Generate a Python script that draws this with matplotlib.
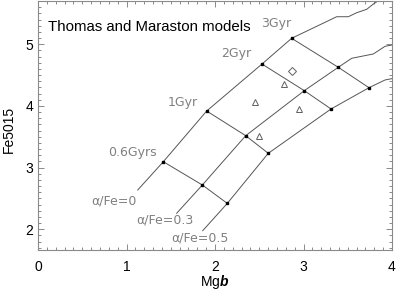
import matplotlib
matplotlib.use("Agg")
import matplotlib.pyplot as plt
from matplotlib.ticker import MultipleLocator

# ---------------- data ----------------
age_labels = ['0.6Gyrs', '1Gyr', '2Gyr', '3Gyr']
alpha_labels = ['α/Fe=0', 'α/Fe=0.3', 'α/Fe=0.5']

# model grid points (rows: alpha/Fe = 0, 0.3, 0.5 ; columns: ages)
grid_mgb = [[1.416, 1.906, 2.531, 2.866],
            [1.857, 2.347, 3.009, 3.393],
            [2.139, 2.602, 3.311, 3.740]]
grid_fe = [[3.096, 3.918, 4.680, 5.097],
           [2.718, 3.518, 4.248, 4.627],
           [2.420, 3.232, 3.951, 4.296]]

# young end of each track
young_mgb = [1.127, 1.567, 1.861]
young_fe = [2.637, 2.260, 1.977]

# old extension of each track (beyond 3 Gyr)
old_mgb = [[3.375, 3.506, 3.601, 3.714, 3.789, 3.910],
           [3.545, 3.789, 3.921, 4.030],
           [3.921, 4.034]]
old_fe = [[5.447, 5.447, 5.512, 5.567, 5.653, 5.766],
          [4.773, 4.843, 4.967, 4.997],
          [4.421, 4.453]]

# observations
diamond_mgb = [2.866]
diamond_fe = [4.572]
tri_mgb = [2.780, 2.452, 2.949, 2.497]
tri_fe = [4.351, 4.059, 3.951, 3.513]

# ---------------- text placement ----------------
age_label_xy = [(1.345, 3.242), (1.805, 4.053), (2.415, 4.843), (2.866, 5.340)]
alpha_label_xy = [(0.607, 2.459), (1.107, 2.151), (1.511, 1.864)]

# ---------------- figure ----------------
plt.rcParams['font.family'] = ['Liberation Sans', 'DejaVu Sans']
plt.rcParams['mathtext.fontset'] = 'custom'
plt.rcParams['mathtext.rm'] = 'Liberation Sans'
plt.rcParams['mathtext.bfit'] = 'Liberation Sans:italic:bold'

fig = plt.figure(figsize=(3.97, 2.91), dpi=100)
ax = fig.add_axes([38/397, 41/291, 354/397, 249/291])

line_col = '#555555'
lab_col = '#808080'
spine_col = '#8a8a8a'

# tracks
for i in range(3):
    xs = [young_mgb[i]] + grid_mgb[i] + old_mgb[i]
    ys = [young_fe[i]] + grid_fe[i] + old_fe[i]
    ax.plot(xs, ys, color=line_col, lw=0.7, zorder=2)

# isochrones
for j in range(len(age_labels)):
    xs = [grid_mgb[i][j] for i in range(3)]
    ys = [grid_fe[i][j] for i in range(3)]
    ax.plot(xs, ys, color=line_col, lw=0.7, zorder=2)

# grid dots
for i in range(3):
    ax.plot(grid_mgb[i], grid_fe[i], linestyle='none', marker='s',
            ms=2.0, color='black', zorder=3)

# observations
ax.plot(diamond_mgb, diamond_fe, linestyle='none', marker='D', ms=4,
        mfc='none', mec='#606060', mew=0.7, zorder=4)
ax.plot(tri_mgb, tri_fe, linestyle='none', marker='^', ms=5,
        mfc='none', mec='#606060', mew=0.7, zorder=4)

# labels
for lab, (x, y) in zip(age_labels, age_label_xy):
    ax.text(x, y, lab, ha='right', va='center', color=lab_col,
            fontsize=9, family='DejaVu Sans')
for lab, (x, y) in zip(alpha_labels, alpha_label_xy):
    ax.text(x, y, lab, ha='left', va='center', color=lab_col,
            fontsize=9, family='DejaVu Sans')

ax.text(0.028, 0.894, 'Thomas and Maraston models', transform=ax.transAxes,
        ha='left', va='center', fontsize=10.8, color='black')

ax.set_xlim(0, 4)
ax.set_ylim(1.664, 5.702)
ax.set_xticks([0, 1, 2, 3, 4])
ax.set_yticks([2, 3, 4, 5])
ax.xaxis.set_minor_locator(MultipleLocator(0.1))
ax.yaxis.set_minor_locator(MultipleLocator(0.1))
ax.tick_params(which='both', direction='in', top=True, right=True,
               color=spine_col, width=0.7)
ax.tick_params(which='major', length=4)
ax.tick_params(which='minor', length=2)
ax.tick_params(axis='x', which='major', pad=7.5, labelsize=10)
ax.tick_params(axis='y', which='major', pad=3.5, labelsize=10)
for s in ax.spines.values():
    s.set_color(spine_col)
    s.set_linewidth(0.8)

ax.set_xlabel(r'Mg$\mathbfit{b}$', fontsize=10)
ax.set_ylabel('Fe5015', fontsize=10)
ax.xaxis.set_label_coords(0.5, -0.094)
ax.yaxis.set_label_coords(-0.062, 0.486)

fig.savefig('out.png', dpi=100)
